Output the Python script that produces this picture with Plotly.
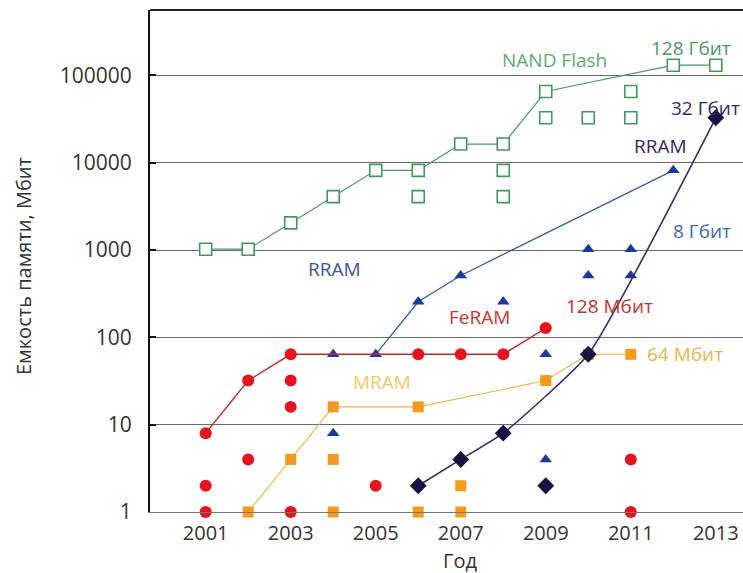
import plotly.graph_objects as go

# ---- data (capacity in Mbit) ----
tick_years = [2001, 2003, 2005, 2007, 2009, 2011, 2013]
y_tick_vals = [1, 10, 100, 1000, 10000, 100000]
y_tick_text = ["1", "10", "100", "1000", "10000", "100000"]

nand_years = [2001, 2002, 2003, 2004, 2005, 2006, 2007, 2008, 2009, 2012, 2013]
nand_cap = [1024, 1024, 2048, 4096, 8192, 8192, 16384, 16384, 65536, 131072, 131072]
nand_other_years = [2006, 2008, 2008, 2009, 2010, 2011, 2011]
nand_other_cap = [4096, 8192, 4096, 32768, 32768, 65536, 32768]

rram_years = [2005, 2006, 2007, 2012]
rram_cap = [64, 256, 512, 8192]
rram_other_years = [2004, 2004, 2008, 2009, 2009, 2010, 2010, 2011, 2011]
rram_other_cap = [64, 8, 256, 64, 4, 1024, 512, 1024, 512]

feram_years = [2001, 2002, 2003, 2006, 2007, 2008, 2009]
feram_cap = [8, 32, 64, 64, 64, 64, 128]
feram_other_years = [2001, 2001, 2002, 2003, 2003, 2003, 2005, 2011, 2011]
feram_other_cap = [2, 1, 4, 32, 16, 1, 2, 4, 1]

mram_years = [2002, 2003, 2004, 2006, 2009, 2010, 2011]
mram_cap = [1, 4, 16, 16, 32, 64, 64]
mram_other_years = [2004, 2004, 2006, 2007, 2007]
mram_other_cap = [4, 1, 1, 2, 1]

rram2_years = [2006, 2007, 2008, 2010, 2013]
rram2_cap = [2, 4, 8, 64, 32768]
rram2_other_years = [2009]
rram2_other_cap = [2]

FONT = "Open Sans"
TEXT = "#333"

fig = go.Figure()


def pts(x, y, symbol, color, size, line_w=0, open_marker=False):
    fig.add_trace(go.Scatter(
        x=x, y=y, mode="markers", cliponaxis=False, showlegend=False,
        marker=dict(symbol=symbol, size=size,
                    color="white" if open_marker else color,
                    line=dict(color=color, width=line_w)),
    ))


def series(x, y, symbol, mcolor, lcolor, size, lw, open_marker=False,
           shape="linear", smoothing=1.0):
    fig.add_trace(go.Scatter(
        x=x, y=y, mode="lines+markers", cliponaxis=False, showlegend=False,
        line=dict(color=lcolor, width=lw, shape=shape, smoothing=smoothing),
        marker=dict(symbol=symbol, size=size,
                    color="white" if open_marker else mcolor,
                    line=dict(color=mcolor, width=1.6 if open_marker else 0)),
    ))


# NAND Flash
series(nand_years, nand_cap, "square", "#3f9a5a", "#4a9a60", 12, 1.2, open_marker=True)
pts(nand_other_years, nand_other_cap, "square", "#3f9a5a", 12, 1.6, open_marker=True)

# RRAM (blue)
series(rram_years, rram_cap, "triangle-up", "#1a38a0", "#2f5ca8", 11, 1.3)
pts(rram_other_years, rram_other_cap, "triangle-up", "#1a38a0", 11)

# FeRAM
series(feram_years, feram_cap, "circle", "#e8121c", "#c02a2a", 12, 1.4)
pts(feram_other_years, feram_other_cap, "circle", "#e8121c", 12)

# MRAM
series(mram_years, mram_cap, "square", "#f59a1a", "#f0b440", 11, 1.1)
pts(mram_other_years, mram_other_cap, "square", "#f59a1a", 11)

# RRAM (dark)
series(rram2_years, rram2_cap, "diamond", "#17123f", "#3b2a6c", 13, 1.6,
       shape="spline", smoothing=0.45)
pts(rram2_other_years, rram2_other_cap, "diamond", "#17123f", 13)

labels = [
    ("NAND Flash", 2009.2, 5.18, "#5aad6e"),
    ("128 Гбит", 2012.42, 5.32, "#4a9a60"),
    ("32 Гбит", 2012.75, 4.63, "#3b1f5e"),
    ("RRAM", 2011.71, 4.19, "#3b1f5e"),
    ("8 Гбит", 2012.68, 3.22, "#3a6ab0"),
    ("RRAM", 2004.04, 2.78, "#3c559c"),
    ("FeRAM", 2007.43, 2.23, "#d0342c"),
    ("128 Мбит", 2010.51, 2.36, "#c8302a"),
    ("MRAM", 2005.15, 1.49, "#f2c76a"),
    ("64 Мбит", 2012.28, 1.81, "#e8b548"),
]
for text, lx, ly, col in labels:
    fig.add_annotation(x=lx, y=ly, xref="x", yref="y", text=text, showarrow=False,
                       font=dict(family=FONT, size=19, color=col))

# axis titles
fig.add_annotation(x=(460 - 150) / 593, y=-(560 - 512) / 502, xref="paper", yref="paper",
                   text="Год", showarrow=False, xanchor="center", yanchor="middle",
                   font=dict(family=FONT, size=20, color=TEXT))
fig.add_annotation(x=-(150 - 23) / 593, y=(512 - 266) / 502, xref="paper", yref="paper",
                   text="Емкость памяти, Мбит", textangle=-90, showarrow=False,
                   xanchor="center", yanchor="middle",
                   font=dict(family=FONT, size=20, color=TEXT))

# top frame line
fig.add_shape(type="line", xref="paper", yref="paper", x0=0, x1=1, y0=1, y1=1,
              line=dict(color="#222", width=2))

fig.update_layout(
    width=743, height=573,
    margin=dict(l=150, r=0, t=10, b=61),
    paper_bgcolor="white", plot_bgcolor="white",
    font=dict(family=FONT, size=20, color=TEXT),
    xaxis=dict(
        range=[1999.69, 2013.64], tickvals=tick_years,
        showgrid=False, zeroline=False,
        showline=True, linecolor="#777", linewidth=1,
        ticks="", ticklabelstandoff=3,
        tickfont=dict(family=FONT, size=20, color=TEXT),
    ),
    yaxis=dict(
        type="log", range=[0, 5.75],
        tickvals=y_tick_vals, ticktext=y_tick_text,
        showgrid=True, gridcolor="#6a6a6a", gridwidth=1,
        showline=True, linecolor="#111", linewidth=2,
        ticks="inside", ticklen=6, tickwidth=2, tickcolor="#111",
        ticklabelstandoff=12,
        tickfont=dict(family=FONT, size=21, color=TEXT),
    ),
)

fig.write_html("out.html")
